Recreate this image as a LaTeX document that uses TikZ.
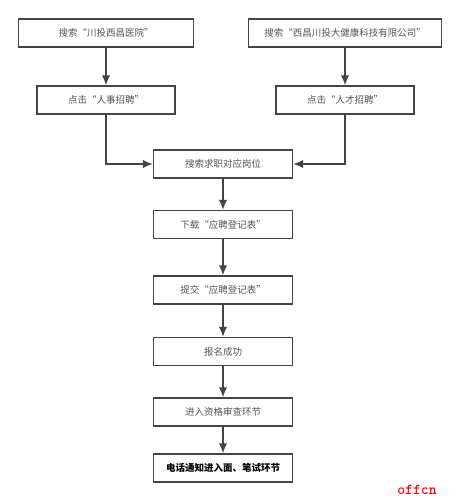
\documentclass[tikz,border=0pt]{standalone}
\usepackage{fontspec}
\setmainfont{Noto Sans CJK SC}
\usetikzlibrary{arrows.meta}
\definecolor{boxline}{HTML}{444444}
\definecolor{boxtext}{HTML}{555555}
\definecolor{markred}{HTML}{FF0000}
\tikzset{
  stepbox/.style={draw=boxline, line width=1.4pt, fill=white, minimum height=28pt, inner sep=0pt, font=\fontsize{9.5pt}{11pt}\selectfont, text=boxtext},
  flow/.style={draw=boxline, line width=1.5pt, -{Latex[length=10pt,width=8.5pt]}}
}

\begin{document}
\begin{tikzpicture}[x=1pt,y=-1pt]
\useasboundingbox (0,0) rectangle (461,502);
\node[stepbox, minimum width=175pt] (sousuoA) at (106,33) {搜索“川投西昌医院”};
\node[stepbox, minimum width=193pt] (sousuoB) at (345,33) {搜索“西昌川投大健康科技有限公司”};
\node[stepbox, minimum width=138pt] (dianjiA) at (106,100) {点击“人事招聘”};
\node[stepbox, minimum width=138pt] (dianjiB) at (345,100) {点击“人才招聘”};
\node[stepbox, minimum width=139pt] (gangwei) at (223,164) {搜索求职对应岗位};
\node[stepbox, minimum width=139pt] (xiazai) at (223,224.5) {下载“应聘登记表”};
\node[stepbox, minimum width=139pt] (tijiao) at (223,290) {提交“应聘登记表”};
\node[stepbox, minimum width=139pt] (chenggong) at (223,351.5) {报名成功};
\node[stepbox, minimum width=139pt] (shencha) at (223,412) {进入资格审查环节};
\node[stepbox, minimum width=139pt, text=black, font=\fontsize{9.5pt}{11pt}\selectfont\bfseries] (mianshi) at (223,468) {电话通知进入面、笔试环节};
\node[text=markred, font=\fontsize{15pt}{16pt}\selectfont\bfseries\ttfamily] (mark) at (417,490) {offcn};
\draw[flow] (sousuoA) -- (dianjiA);
\draw[flow] (sousuoB) -- (dianjiB);
\draw[flow] (dianjiA.south) |- (gangwei.west);
\draw[flow] (dianjiB.south) |- (gangwei.east);
\draw[flow] (gangwei) -- (xiazai);
\draw[flow] (xiazai) -- (tijiao);
\draw[flow] (tijiao) -- (chenggong);
\draw[flow] (chenggong) -- (shencha);
\draw[flow] (shencha) -- (mianshi);
\end{tikzpicture}
\end{document}
